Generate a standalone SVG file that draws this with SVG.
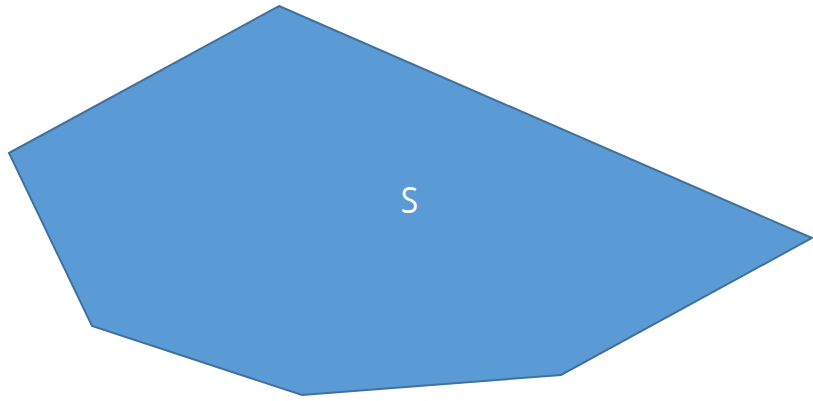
<svg xmlns="http://www.w3.org/2000/svg" width="813" height="401" viewBox="0 0 813 401">
<style>
.shape{fill:#5B9BD5;stroke:#41719C;stroke-width:2;stroke-linejoin:miter}
.lbl{font-family:"Open Sans","Liberation Sans",sans-serif;font-size:36px;fill:#FFFFFF;text-anchor:middle}
</style>
<rect width="813" height="401" fill="#FFFFFF"/>
<g id="S">
<polygon class="shape" points="279,6 812,238 561,375 302,395 92,326 9,153"/>
<text class="lbl" x="0" y="0" transform="translate(409.5,213) scale(0.88,1)">S</text>
</g>
<g id="connectors"/>
</svg>
